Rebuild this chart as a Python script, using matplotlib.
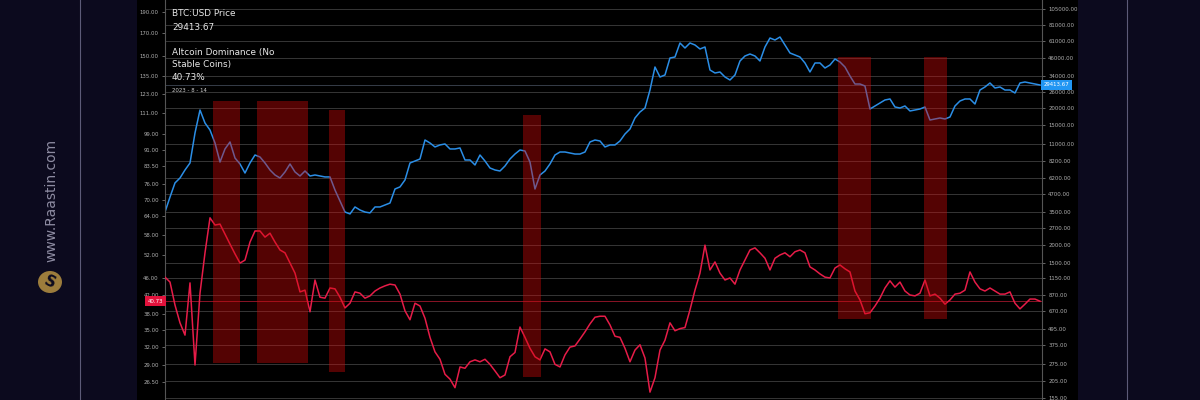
import matplotlib
matplotlib.use('Agg')
import matplotlib.pyplot as plt
import matplotlib.ticker as mticker
import matplotlib.transforms as mtransforms
from matplotlib.patches import Rectangle, Ellipse
from matplotlib.lines import Line2D
import pandas as pd

# ---------------- data ----------------
start_date = '2017-09-22'
end_date = '2023-08-14'

btc_price = [3500, 4500, 5700, 6190, 7080, 7960, 13160, 19340, 15560, 13830,
             11130, 8090, 10070, 11320, 8650, 7830, 6730, 7960, 9100, 8800,
             7960, 7080, 6510, 6190, 6850, 7830, 6850, 6400, 6960, 6400,
             6510, 6400, 6300, 6300, 5060, 4210, 3500, 3390, 3810, 3620,
             3500, 3450, 3810, 3810, 3940, 4070, 5150, 5330, 5990, 7960,
             8230, 8510, 11700, 11130, 10410, 10770, 10950, 10070, 10070, 10240,
             8370, 8370, 7700, 9100, 8230, 7320, 7080, 6960, 7570, 8510,
             9250, 9900, 9730, 8090, 5150, 6510, 6960, 7830, 9100, 9570,
             9570, 9410, 9250, 9250, 9570, 11320, 11700, 11510, 10410, 10770,
             10770, 11510, 12940, 14070, 16920, 18710, 20000, 27040, 39760, 33630,
             34780, 46240, 47020, 59450, 54670, 59450, 57500, 53770, 55600, 37820,
             35970, 36570, 33630, 31980, 34780, 43970, 47820, 49440, 47820, 43970,
             55600, 64640, 62520, 65730, 57500, 50280, 48620, 47020, 42530, 36570,
             42530, 42530, 39110, 41120, 45470, 43250, 39760, 34200, 29900, 29900,
             28930, 19670, 20690, 21750, 22880, 23270, 20350, 20000, 20690, 19030,
             19340, 19670, 20350, 16360, 16640, 16920, 16640, 17200, 20690, 22500,
             23270, 23270, 21390, 27040, 28450, 30420, 27970, 28450, 27040, 27040,
             25720, 30420, 30930, 30420, 29900, 29413.67]

alt_dominance = [46.3, 45.1, 39.9, 36.3, 34.0, 44.9, 29.0, 42.5, 52.7, 63.5,
                 61.1, 61.4, 58.2, 55.2, 52.4, 49.9, 50.7, 55.8, 59.2, 59.2,
                 57.3, 58.5, 55.8, 53.5, 52.7, 49.9, 47.3, 42.8, 43.2, 38.5,
                 45.6, 41.6, 41.4, 43.7, 43.5, 41.6, 39.3, 40.3, 42.8, 42.5,
                 41.4, 41.9, 43.0, 43.7, 44.2, 44.6, 44.4, 42.3, 38.7, 36.9,
                 40.3, 39.7, 37.2, 33.6, 31.1, 29.9, 27.6, 26.9, 25.7, 28.7,
                 28.5, 29.5, 29.8, 29.5, 29.9, 29.1, 28.1, 27.1, 27.5, 30.3,
                 31.0, 35.5, 33.6, 31.7, 30.3, 29.8, 31.6, 31.1, 29.1, 28.7,
                 30.6, 31.9, 32.1, 33.3, 34.6, 36.1, 37.4, 37.6, 37.6, 35.9,
                 33.8, 33.6, 31.7, 29.5, 31.4, 32.3, 30.1, 25.1, 27.1, 31.4,
                 33.1, 36.3, 34.8, 35.2, 35.4, 38.9, 43.2, 47.3, 54.9, 48.1,
                 50.2, 47.3, 45.6, 46.1, 44.6, 48.1, 50.7, 53.5, 54.1, 52.7,
                 51.2, 48.1, 51.2, 52.1, 52.7, 51.6, 53.0, 53.5, 52.7, 48.9,
                 48.1, 47.1, 46.3, 46.1, 48.6, 49.4, 48.4, 47.6, 43.0, 41.0,
                 38.1, 38.3, 39.7, 41.4, 43.7, 45.4, 43.9, 45.1, 43.0, 42.1,
                 41.9, 42.5, 45.6, 41.9, 42.3, 41.4, 40.1, 41.0, 42.3, 42.5,
                 43.2, 47.6, 45.1, 43.5, 43.0, 43.7, 43.0, 42.3, 42.3, 42.8,
                 40.3, 39.1, 40.1, 41.2, 41.2, 40.73]

zone_start = ['2018-01-18', '2018-05-06', '2018-10-31', '2020-02-20', '2022-04-04', '2022-11-02']
zone_end = ['2018-03-25', '2018-09-09', '2018-12-09', '2020-04-04', '2022-06-24', '2022-12-28']
zone_top = [118.3, 118.3, 112.7, 109.8, 149.6, 149.6]
zone_bottom = [29.3, 29.3, 27.9, 27.2, 37.0, 37.0]

left_ticks = [190, 170, 150, 135, 123, 111, 99, 91, 83.5, 76, 70, 64, 58, 52,
              46, 42, 38, 35, 32, 29, 26.5, 24]
right_ticks = [105000, 81000, 61000, 46000, 34000, 26000, 20000, 15000, 11000,
               8200, 6200, 4700, 3500, 2700, 2000, 1500, 1150, 870, 670, 495,
               375, 275, 205, 155]

btc_last = 29413.67
dom_last = 40.73
last_date_label = '2023 - 8 - 14'

# ---------------- styling ----------------
BG = '#0c0a1e'
BLUE = '#2b8ee6'
RED = '#e61c48'
TICKC = '#b0b0b0'

btc_dates = pd.date_range(start_date, end_date, periods=len(btc_price))
dom_dates = pd.date_range(start_date, end_date, periods=len(alt_dominance))

fig = plt.figure(figsize=(12, 4), dpi=100, facecolor=BG)

# black chart panel
fig.patches.append(Rectangle((137 / 1200, 0), (1078 - 137) / 1200, 1,
                             transform=fig.transFigure, facecolor='black',
                             edgecolor='none', zorder=-10))
for xp in (80, 1127):
    fig.lines.append(Line2D([xp / 1200, xp / 1200], [0, 1], transform=fig.transFigure,
                            color='#5d5b78', lw=0.8, zorder=-5))

ax = fig.add_axes([165 / 1200, 0, (1042 - 165) / 1200, 1])
ax.set_zorder(1)
ax.set_facecolor('black')
ax2 = ax.twinx()
ax2.set_zorder(2)
ax2.patch.set_visible(False)

# BTC on primary (right ticks)
ax.set_yscale('log')
ax.plot(btc_dates, btc_price, color=BLUE, lw=1.1, zorder=3)
ax.set_ylim(150, 122200)
ax.yaxis.tick_right()
ax.yaxis.set_label_position('right')
ax.yaxis.set_major_locator(mticker.FixedLocator(right_ticks))
ax.yaxis.set_minor_locator(mticker.NullLocator())
ax.yaxis.set_major_formatter(mticker.FuncFormatter(lambda v, p: f'{v:.2f}'))
ax.grid(axis='y', color='#363636', lw=0.7, zorder=0)
ax.axhline(btc_last, color='#7d8fa8', lw=0.6, ls=(0, (1.2, 1.2)), zorder=2)

# Dominance on twin (left ticks)
ax2.set_yscale('log')
ax2.plot(dom_dates, alt_dominance, color=RED, lw=1.1, zorder=3)
ax2.set_ylim(24.07, 202.5)
ax2.yaxis.tick_left()
ax2.yaxis.set_major_locator(mticker.FixedLocator(left_ticks))
ax2.yaxis.set_minor_locator(mticker.NullLocator())
ax2.yaxis.set_major_formatter(mticker.FuncFormatter(lambda v, p: f'{v:.2f}'))
ax2.axhline(dom_last, color='#8a1426', lw=0.7, zorder=2)

# shaded zones (drawn on top so the line shows through tinted)
for s, e, t, b in zip(zone_start, zone_end, zone_top, zone_bottom):
    x0 = pd.Timestamp(s)
    x1 = pd.Timestamp(e)
    ax2.add_patch(Rectangle((x0, b), x1 - x0, t - b, facecolor='#d40a0a',
                            edgecolor='none', alpha=0.40, zorder=5))

ax.set_xlim(pd.Timestamp(start_date), pd.Timestamp('2023-08-19'))
ax.set_xticks([])

for a in (ax, ax2):
    for sp in ('top', 'bottom'):
        a.spines[sp].set_visible(False)
    a.tick_params(axis='y', colors='#777777', labelcolor=TICKC, labelsize=3.9,
                  length=2.5, width=0.6, pad=2)
ax.spines['left'].set_visible(False)
ax.spines['right'].set_color('#555555')
ax2.spines['right'].set_visible(False)
ax2.spines['left'].set_color('#555555')
ax2.spines['left'].set_linewidth(0.8)
ax.spines['right'].set_linewidth(0.8)

# last-value labels on the axes
trans_l = mtransforms.blended_transform_factory(ax2.transAxes, ax2.transData)
ax2.text(-0.002, dom_last, f'{dom_last:.2f}', transform=trans_l, ha='right', va='center',
         fontsize=3.9, color='white', zorder=10, clip_on=False,
         bbox=dict(boxstyle='square,pad=0.45', facecolor='#e3123c', edgecolor='none'))
trans_r = mtransforms.blended_transform_factory(ax.transAxes, ax.transData)
ax.text(1.002, btc_last, f'{btc_last:.2f}', transform=trans_r, ha='left', va='center',
        fontsize=3.9, color='white', zorder=10, clip_on=False,
        bbox=dict(boxstyle='square,pad=0.45', facecolor='#2196f3', edgecolor='none'))

# legend text block
tx = 172 / 1200
def fy(y):
    return 1 - y / 400
fig.text(tx, fy(13), 'BTC:USD Price', color='#e8e8e8', fontsize=6.4, va='center', zorder=20)
fig.text(tx, fy(27), f'{btc_last:.2f}', color='#e8e8e8', fontsize=6.4, va='center', zorder=20)
fig.text(tx, fy(53), 'Altcoin Dominance (No', color='#e8e8e8', fontsize=6.4, va='center', zorder=20)
fig.text(tx, fy(65), 'Stable Coins)', color='#e8e8e8', fontsize=6.4, va='center', zorder=20)
fig.text(tx, fy(78), f'{dom_last:.2f}%', color='#e8e8e8', fontsize=6.4, va='center', zorder=20)
fig.text(tx, fy(90), last_date_label, color='#cfcfcf', fontsize=3.9, va='center', zorder=20)

# watermark
fig.text(51 / 1200, 0.5, 'www.Raastin.com', rotation=90, color='#8e8ca2',
         fontsize=10, ha='center', va='center', zorder=20)
fig.patches.append(Ellipse((50 / 1200, fy(282)), 24 / 1200, 22 / 400,
                           transform=fig.transFigure, facecolor='#9c7c3c',
                           edgecolor='none', zorder=20))
fig.text(50 / 1200, fy(282), 'S', color=BG, fontsize=11, fontweight='bold',
         ha='center', va='center', rotation=-25, zorder=21)

fig.savefig('out.png', dpi=100, facecolor=BG)
